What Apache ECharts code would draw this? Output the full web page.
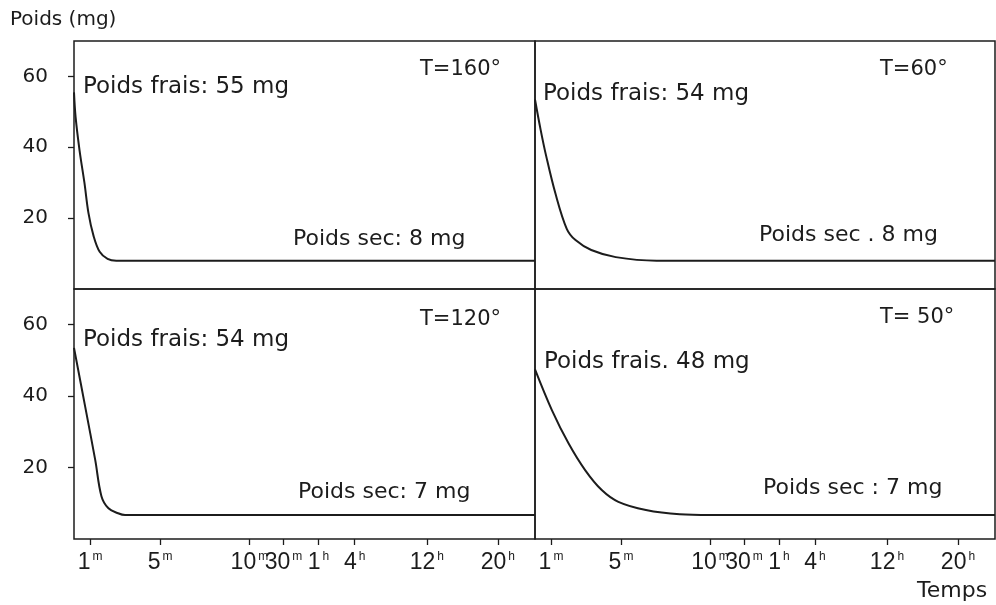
<!DOCTYPE html>
<html><head><meta charset="utf-8">
<script src="https://cdn.jsdelivr.net/npm/echarts@6/dist/echarts.min.js"></script>
<style>html,body{margin:0;padding:0;background:#fff}#c{width:996px;height:605px}</style>
</head><body><div id="c"></div>
<script>
// ---- data ----
const panelTitles = ['T=160°', 'T=60°', 'T=120°', 'T= 50°'];
const freshLabels = ['Poids frais: 55 mg', 'Poids frais: 54 mg', 'Poids frais: 54 mg', 'Poids frais. 48 mg'];
const dryLabels = ['Poids sec: 8 mg', 'Poids sec . 8 mg', 'Poids sec: 7 mg', 'Poids sec : 7 mg'];
const yAxisTitle = 'Poids (mg)';
const xAxisTitle = 'Temps';
const yTicks = [20, 40, 60];
const tickMinutes = [1, 5, 10, 30, 60, 240, 720, 1200];
const tickNumbers = ['1', '5', '10', '30', '1', '4', '12', '20'];
const tickUnits = ['m', 'm', 'm', 'm', 'h', 'h', 'h', 'h'];
// broken time scale: minutes -> axis units
const scaleMinutes = [0, 1, 5, 10, 30, 60, 240, 720, 1200, 1440];
const scaleUnits = [0, 16, 86, 175, 209, 244, 280, 352, 423, 460];

// curves (time in minutes, weight in mg)
const t160 = [0, 0.1, 0.35, 0.65, 0.9, 1.2, 1.55, 2.0, 2.5, 1440];
const w160 = [55.5, 48.5, 39, 30, 21.5, 15, 10.5, 8.5, 8, 8];
const t60 = [0, 0.35, 0.7, 1.25, 1.9, 2.4, 3.3, 4.7, 7.0, 1440];
const w60 = [53.5, 45, 37.5, 27, 17, 13.8, 11, 9, 8, 8];
const t120 = [0, 0.7, 1.3, 1.65, 2.05, 2.6, 3.0, 1440];
const w120 = [53.5, 37, 22, 12, 8.6, 7.2, 6.7, 6.7];
const t50 = [0, 1.05, 2.0, 2.95, 3.9, 4.85, 6.4, 8.3, 10, 1440];
const w50 = [47.5, 36.1, 26.8, 19.3, 13.7, 10.4, 8.1, 6.9, 6.7, 6.7];

// ---- build ----
function toUnits(m) {
  for (let i = 1; i < scaleMinutes.length; i++) {
    if (m <= scaleMinutes[i]) {
      const a = scaleMinutes[i - 1], b = scaleMinutes[i];
      return scaleUnits[i - 1] + (m - a) / (b - a) * (scaleUnits[i] - scaleUnits[i - 1]);
    }
  }
  return scaleUnits[scaleUnits.length - 1];
}
const curves = [[t160, w160], [t60, w60], [t120, w120], [t50, w50]];
const INK = '#1c1c1c';
const FONT = 'DejaVu Sans';
const tickVals = tickMinutes.map(toUnits);

const grids = [
  {left: 74, top: 41, width: 461, height: 248},
  {left: 535, top: 41, width: 460, height: 248},
  {left: 74, top: 289, width: 461, height: 250},
  {left: 535, top: 289, width: 460, height: 250}
].map(g => Object.assign(g, {show: true, borderColor: INK, borderWidth: 1.5, containLabel: false}));

const xAxes = grids.map((g, i) => ({
  type: 'value', gridIndex: i, min: 0, max: scaleUnits[scaleUnits.length - 1],
  splitLine: {show: false},
  axisLine: {show: false},
  axisTick: {show: i >= 2, customValues: tickVals, length: 6, lineStyle: {color: INK, width: 1.3}},
  axisLabel: {
    show: i >= 2, customValues: tickVals, margin: 12, color: INK,
    fontFamily: 'Liberation Sans', fontSize: 23,
    formatter: v => {
      const k = tickVals.findIndex(t => Math.abs(t - v) < 0.5);
      return k < 0 ? '' : tickNumbers[k] + '{s|' + tickUnits[k] + '}';
    },
    rich: {s: {fontSize: 12, fontFamily: 'Liberation Sans', color: INK, padding: [0, 0, 11, 2]}}
  }
}));

const yAxes = grids.map((g, i) => ({
  type: 'value', gridIndex: i, min: 0, max: 70,
  splitLine: {show: false},
  axisLine: {show: false},
  axisTick: {show: i % 2 === 0, customValues: yTicks, length: 6, lineStyle: {color: INK, width: 1.3}},
  axisLabel: {show: i % 2 === 0, customValues: yTicks, margin: 26, color: INK, fontFamily: FONT, fontSize: 20}
}));

const series = curves.map((c, i) => ({
  type: 'line', xAxisIndex: i, yAxisIndex: i, showSymbol: false, smooth: 0.35,
  lineStyle: {color: INK, width: 2}, silent: true,
  data: c[0].map((m, k) => [toUnits(m), c[1][k]])
}));

const txt = (x, y, text, size) => ({
  type: 'text', x, y, silent: true,
  style: {text, fill: INK, font: `${size || 22}px "${FONT}"`, textVerticalAlign: 'middle'}
});
const freshPos = [[83, 87], [543, 94], [83, 340], [544, 362]];
const titlePos = [[420, 70], [880, 70], [420, 320], [880, 318]];
const dryPos = [[293, 239], [759, 235], [298, 492], [763, 488]];
const graphic = [txt(10, 20, yAxisTitle, 20), txt(917, 591, xAxisTitle, 22)];
for (let i = 0; i < 4; i++) {
  graphic.push(txt(freshPos[i][0], freshPos[i][1], freshLabels[i], 23));
  graphic.push(txt(titlePos[i][0], titlePos[i][1], panelTitles[i], 21));
  graphic.push(txt(dryPos[i][0], dryPos[i][1], dryLabels[i], 22));
}

const chart = echarts.init(document.getElementById('c'), null, {renderer: 'canvas'});
chart.setOption({
  animation: false, backgroundColor: '#fff',
  grid: grids, xAxis: xAxes, yAxis: yAxes, series, graphic
});
</script></body></html>
